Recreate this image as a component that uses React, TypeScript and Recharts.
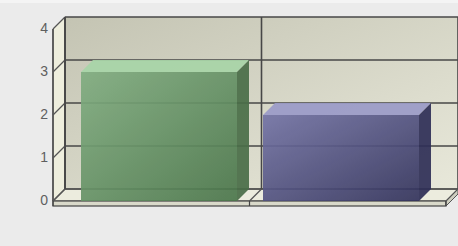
import { Bar, BarChart, CartesianGrid, XAxis, YAxis } from "recharts";

// one group, two series
const categories = [""];
const greenValues = [3];
const blueValues = [2];
const yTicks = [0, 1, 2, 3, 4];

const data = categories.map((name, i) => ({
    name,
    green: greenValues[i],
    blue: blueValues[i],
}));

const D = 12; // depth offset of the 3d box
const LINE = "#474747";

const Walls = ({ x, y, width, height }: any) => {
    const b = y + height;
    return (
        <g>
            <defs>
                <linearGradient id="backWall" x1="0" y1="0" x2="1" y2="1">
                    <stop offset="0%" stopColor="#c4c4b3" />
                    <stop offset="100%" stopColor="#e8e8da" />
                </linearGradient>
            </defs>
            <rect x={x + D} y={y - D} width={width} height={height} fill="url(#backWall)" />
            <polygon
                points={`${x},${y} ${x + D},${y - D} ${x + D},${b - D} ${x},${b}`}
                fill="#eeeedd"
                stroke="#555"
                strokeWidth={1}
            />
            <line x1={x + D} y1={y - D} x2={x + D} y2={b - D} stroke={LINE} strokeWidth={1.6} />
            <line x1={x} y1={y} x2={x} y2={b} stroke="#444" strokeWidth={1.4} />
            {/* floor */}
            <polygon
                points={`${x},${b} ${x + D},${b - D} ${x + width + D},${b - D} ${x + width},${b}`}
                fill="#ececde"
                stroke="#555"
                strokeWidth={1}
            />
            <rect x={x} y={b} width={width} height={5} fill="#d9d9ca" stroke="#444" strokeWidth={1.2} />
            <polygon
                points={`${x + width},${b} ${x + width + D},${b - D} ${x + width + D},${b - D + 5} ${x + width},${b + 5}`}
                fill="#cfcfc0"
                stroke="#555"
                strokeWidth={1}
            />
        </g>
    );
};

const renderHLine = (props: any) => {
    const { x1, x2, y1, index } = props;
    const x = props.x ?? props.offset?.left;
    const y = props.y ?? props.offset?.top;
    const width = props.width ?? props.offset?.width;
    const height = props.height ?? props.offset?.height;
    return (
        <g key={`h-${index}`}>
            {index === 0 && <Walls x={x} y={y} width={width} height={height} />}
            <line x1={x1 + D} y1={y1 - D} x2={x2 + D} y2={y1 - D} stroke={LINE} strokeWidth={1.6} />
            <line x1={x1} y1={y1} x2={x1 + D} y2={y1 - D} stroke="#555" strokeWidth={1.2} />
        </g>
    );
};

const renderVLine = (props: any) => {
    const { x1, y1, y2, index } = props;
    return (
        <g key={`v-${index}`}>
            <line x1={x1 + D} y1={y1 - D} x2={x1 + D} y2={y2 - D} stroke={LINE} strokeWidth={1.6} />
            <line x1={x1} y1={y2} x2={x1 + D} y2={y2 - D} stroke="#555" strokeWidth={1.2} />
            <line x1={x1} y1={y2} x2={x1} y2={y2 + 5} stroke="#444" strokeWidth={1.2} />
        </g>
    );
};

const makeBar = (id: string, from: string, to: string, top: string, side: string) => (props: any) => {
    const { x, y, width, height } = props;
    if (!height) return null;
    return (
        <g opacity={0.92}>
            <defs>
                <linearGradient id={id} x1="0" y1="0" x2="1" y2="1">
                    <stop offset="0%" stopColor={from} />
                    <stop offset="100%" stopColor={to} />
                </linearGradient>
            </defs>
            <rect x={x} y={y} width={width} height={height} fill={`url(#${id})`} />
            <polygon
                points={`${x},${y} ${x + D},${y - D} ${x + width + D},${y - D} ${x + width},${y}`}
                fill={top}
            />
            <polygon
                points={`${x + width},${y} ${x + width + D},${y - D} ${x + width + D},${y + height - D} ${x + width},${y + height}`}
                fill={side}
            />
        </g>
    );
};

const GreenBar = makeBar("gGreen", "#82ae82", "#4b764b", "#a8d5a8", "#4a6e48");
const BlueBar = makeBar("gBlue", "#7474a6", "#33335c", "#9b9bc8", "#2f2f57");

const Tick = (props: any) => {
    const { x, y, payload } = props;
    return (
        <text
            x={x}
            y={y}
            dy={3.5}
            textAnchor="end"
            fontSize={14}
            fontFamily="Liberation Sans, Arial, sans-serif"
            fill="#5f5f5f"
        >
            {payload.value}
        </text>
    );
};

const NoTick = () => <g />;

const App = () => {
    return (
        <div
            style={{
                position: "absolute",
                left: 0,
                top: 0,
                width: 458,
                height: 246,
                background: "linear-gradient(#f4f4f4 0 3px, #ebebeb 3px)",
            }}
        >
            <BarChart
                width={458}
                height={246}
                data={data}
                margin={{ top: 29, right: 12, bottom: 45, left: 8 }}
                barSize={156}
                barGap={26}
            >
                <CartesianGrid horizontal={renderHLine} vertical={renderVLine} />
                <XAxis dataKey="name" tick={<NoTick />} axisLine={false} tickLine={false} height={0} />
                <YAxis
                    domain={[0, 4]}
                    ticks={yTicks}
                    width={45}
                    axisLine={false}
                    tickLine={false}
                    tickSize={0}
                    tickMargin={5}
                    tick={<Tick />}
                />
                <Bar dataKey="green" shape={GreenBar} isAnimationActive={false} />
                <Bar dataKey="blue" shape={BlueBar} isAnimationActive={false} />
            </BarChart>
        </div>
    );
};

export default App;
